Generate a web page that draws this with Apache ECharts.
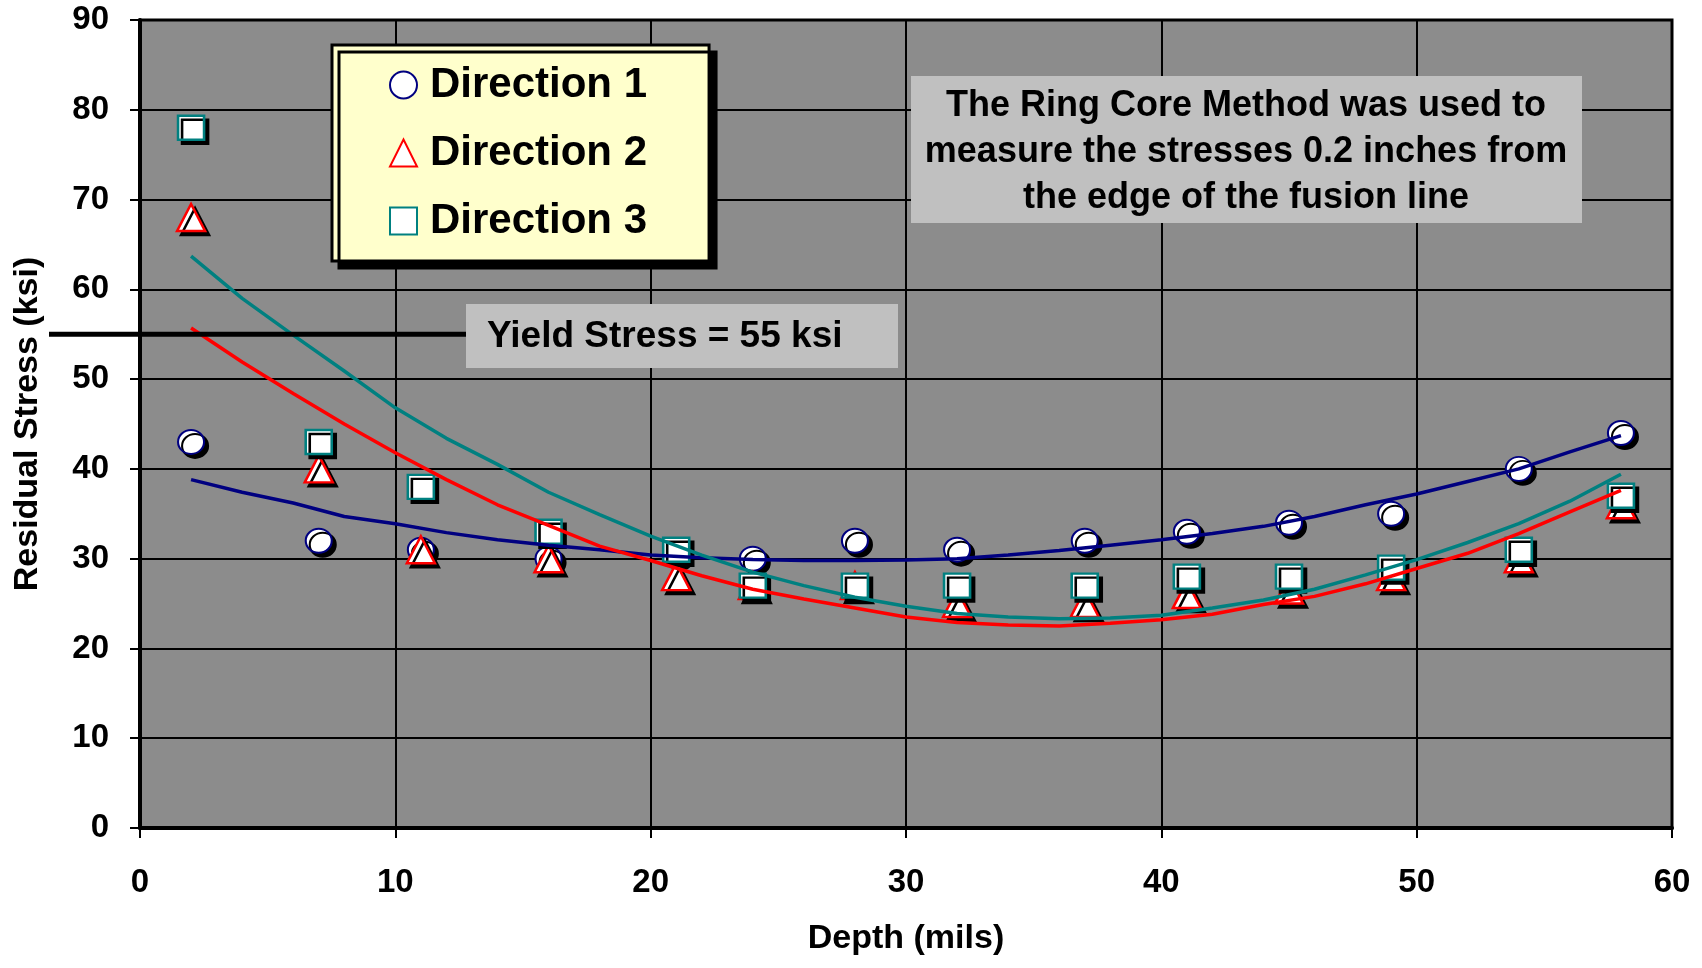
<!DOCTYPE html>
<html>
<head>
<meta charset="utf-8">
<title>Residual Stress vs Depth</title>
<script src="https://cdn.jsdelivr.net/npm/echarts@6/dist/echarts.min.js"></script>
<style>
  html, body { margin: 0; padding: 0; background: #fff; }
  #chart { width: 1702px; height: 968px; }
</style>
</head>
<body>
<div id="chart"></div>
<script>
// measured points, depth (mils) vs stress (ksi)
const depths = [2, 7, 11, 16, 21, 24, 28, 32, 37, 41, 45, 49, 54, 58];
const dir1 = [43, 32, 31, 30, 30.5, 30, 32, 31, 32, 33, 34, 35, 40, 44];
const dir2 = [68, 40, 31, 30, 28, 27, 27, 25, 25, 26, 26.5, 28, 30, 36];
const dir3 = [78, 43, 38, 33, 31, 27, 27, 27, 27, 28, 28, 29, 31, 37];

// trend lines, every 2 mils
const trendX = [2, 4, 6, 8, 10, 12, 14, 16, 18, 20, 22, 24, 26, 28, 30,
                32, 34, 36, 38, 40, 42, 44, 46, 48, 50, 52, 54, 56, 58];
const trend1 = [38.8, 37.4, 36.2, 34.7, 33.9, 32.9, 32.1, 31.5, 31.0, 30.4, 30.1, 29.9, 29.8, 29.8, 29.85,
                30.0, 30.4, 30.9, 31.5, 32.1, 32.8, 33.6, 34.7, 36.0, 37.2, 38.6, 40.0, 41.9, 43.7];
const trend2 = [55.7, 51.9, 48.4, 45.0, 41.8, 38.8, 36.0, 33.7, 31.4, 29.8, 28.1, 26.6, 25.5, 24.5, 23.5,
                22.9, 22.6, 22.5, 22.8, 23.2, 23.8, 24.9, 25.8, 27.2, 28.9, 30.6, 32.8, 35.2, 37.6];
const trend3 = [63.7, 59.0, 54.9, 50.9, 46.8, 43.4, 40.5, 37.4, 34.9, 32.5, 30.4, 28.5, 27.0, 25.7, 24.7,
                23.9, 23.5, 23.3, 23.4, 23.7, 24.5, 25.4, 26.6, 28.2, 29.9, 31.8, 33.9, 36.4, 39.4];

const yieldStress = 55;
const noteLines = ['The Ring Core Method was used to',
                   'measure the stresses 0.2 inches from',
                   'the edge of the fusion line'];

const FONT = '"Liberation Sans", Arial, sans-serif';
const NAVY = '#000080', RED = '#ff0000', TEAL = '#008080';

const chart = echarts.init(document.getElementById('chart'));
const zip = (xs, ys) => xs.map((x, i) => [x, ys[i]]);
const shadow = { shadowColor: '#000', shadowBlur: 0, shadowOffsetX: 4, shadowOffsetY: 4, opacity: 1 };

const axisCommon = {
  type: 'value',
  nameLocation: 'middle',
  nameTextStyle: { fontSize: 34, fontWeight: 'bold', color: '#000', fontFamily: FONT, lineHeight: 34 },
  axisLine: { show: true, lineStyle: { color: '#000', width: 4 } },
  axisTick: { show: true, length: 10, lineStyle: { color: '#000', width: 2 } },
  splitLine: { show: true, lineStyle: { color: '#000', width: 2 } }
};
const tickFont = { fontSize: 33, fontWeight: 'bold', color: '#000', fontFamily: FONT, lineHeight: 33 };

const option = {
  animation: false,
  textStyle: { fontFamily: FONT },
  grid: {
    left: 140, top: 20, width: 1532, height: 808,
    show: true, backgroundColor: '#8c8c8c', borderColor: '#000', borderWidth: 3
  },
  xAxis: Object.assign({}, axisCommon, {
    min: 0, max: 60, interval: 10,
    name: 'Depth (mils)', nameGap: 94,
    axisLabel: Object.assign({ margin: 38 }, tickFont)
  }),
  yAxis: Object.assign({}, axisCommon, {
    min: 0, max: 90, interval: 10,
    name: 'Residual Stress (ksi)', nameGap: 95,
    axisLabel: Object.assign({ margin: 31 }, tickFont)
  }),
  legend: {
    left: 332, top: 45, orient: 'vertical',
    padding: [19, 62, 19, 57],
    itemGap: 26, itemWidth: 27, itemHeight: 27,
    selectedMode: false,
    backgroundColor: '#ffffcc', borderColor: '#000', borderWidth: 3,
    shadowColor: '#000', shadowBlur: 0, shadowOffsetX: 7, shadowOffsetY: 7,
    textStyle: { fontSize: 42, fontWeight: 'bold', color: '#000', fontFamily: FONT, lineHeight: 41, padding: [0, 0, 0, 8] },
    data: [
      { name: 'Direction 1', icon: 'circle', itemStyle: { color: '#fff', borderColor: NAVY, borderWidth: 2 } },
      { name: 'Direction 2', icon: 'triangle', itemStyle: { color: '#fff', borderColor: RED, borderWidth: 2 } },
      { name: 'Direction 3', icon: 'rect', itemStyle: { color: '#fff', borderColor: TEAL, borderWidth: 2 } }
    ]
  },
  series: [
    { name: 'Direction 1', type: 'scatter', symbol: 'circle', symbolSize: [26, 24], silent: true, z: 2,
      data: zip(depths, dir1),
      itemStyle: Object.assign({ color: '#fff', borderColor: NAVY, borderWidth: 2 }, shadow) },
    { name: 'Direction 2', type: 'scatter', symbol: 'triangle', symbolSize: [28, 27], silent: true, z: 2,
      data: zip(depths, dir2),
      itemStyle: Object.assign({ color: '#fff', borderColor: RED, borderWidth: 2.5 }, shadow) },
    { name: 'Direction 3', type: 'scatter', symbol: 'rect', symbolSize: [26, 24], silent: true, z: 2,
      data: zip(depths, dir3),
      itemStyle: Object.assign({ color: '#fff', borderColor: TEAL, borderWidth: 2.5 }, shadow) },
    { name: 'Trend 1', type: 'line', data: zip(trendX, trend1), showSymbol: false, symbol: 'none',
      silent: true, z: 3, lineStyle: { color: NAVY, width: 3.5 } },
    { name: 'Trend 2', type: 'line', data: zip(trendX, trend2), showSymbol: false, symbol: 'none',
      silent: true, z: 3, lineStyle: { color: RED, width: 3.5 } },
    { name: 'Trend 3', type: 'line', data: zip(trendX, trend3), showSymbol: false, symbol: 'none',
      silent: true, z: 3, lineStyle: { color: TEAL, width: 3.5 } }
  ]
};

chart.setOption(option);

// yield stress marker + text boxes
const yYield = chart.convertToPixel({ gridIndex: 0 }, [0, yieldStress])[1];
chart.setOption({
  graphic: [
    { type: 'line', z: 10, shape: { x1: 49, y1: yYield, x2: 470, y2: yYield },
      style: { stroke: '#000', lineWidth: 5 } },
    { type: 'rect', z: 10, shape: { x: 466, y: 304, width: 432, height: 64 },
      style: { fill: '#c0c0c0' } },
    { type: 'text', z: 11, x: 487, y: 337,
      style: { text: 'Yield Stress = ' + yieldStress + ' ksi', font: 'bold 37px ' + FONT,
               fill: '#000', verticalAlign: 'middle', textAlign: 'left' } },
    { type: 'rect', z: 10, shape: { x: 911, y: 76, width: 671, height: 147 },
      style: { fill: '#c0c0c0' } },
    { type: 'text', z: 11, x: 1246, y: 152,
      style: { text: noteLines.join('\n'), font: 'bold 36px ' + FONT, lineHeight: 46,
               fill: '#000', verticalAlign: 'middle', textAlign: 'center' } }
  ]
});
</script>
</body>
</html>
